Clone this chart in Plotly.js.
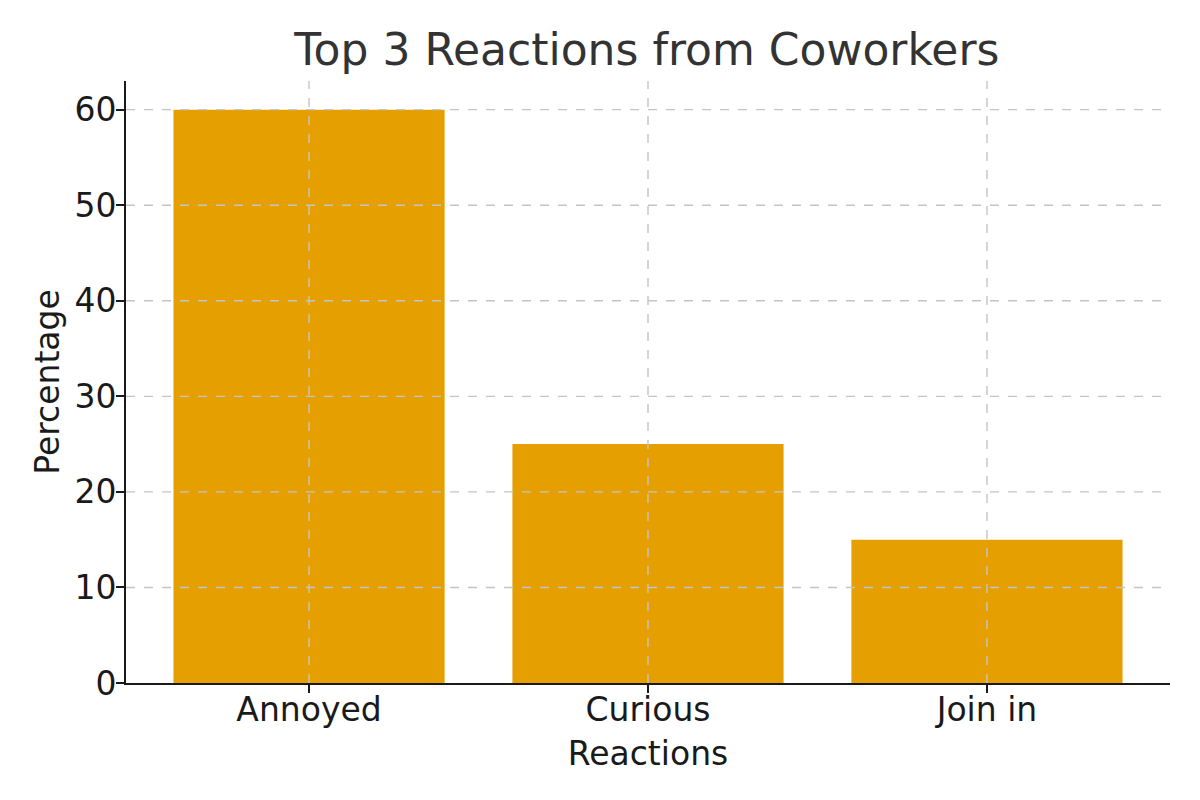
<!DOCTYPE html>
<html>
<head>
<meta charset="utf-8">
<script src="https://cdn.plot.ly/plotly-3.0.1.min.js"></script>
<style>html,body{margin:0;padding:0;background:#fff;}#chart{width:1200px;height:800px;}</style>
</head>
<body>
<div id="chart"></div>
<script>
const categories = ["Annoyed", "Curious", "Join in"];
const percentages = [60, 25, 15];
const yTicks = [0, 10, 20, 30, 40, 50, 60];

const gridStyle = {color: "#c4c4c4", width: 1.4, dash: "dash"};
const shapes = [];
yTicks.filter(v => v > 0).forEach(v => shapes.push({type: "line", xref: "paper", yref: "y", x0: 0, x1: 1, y0: v, y1: v, line: gridStyle, layer: "above"}));
categories.forEach((c, i) => shapes.push({type: "line", xref: "x", yref: "paper", x0: i, x1: i, y0: 0, y1: 1, line: gridStyle, layer: "above"}));

const trace = {
  type: "bar",
  x: categories.map((c, i) => i),
  y: percentages,
  width: 0.8,
  marker: {color: "#E69F00", line: {width: 0}},
  hoverinfo: "none"
};

const font = {family: "DejaVu Sans, sans-serif", color: "#1a1a1a"};
const layout = {
  width: 1200, height: 800,
  margin: {l: 126, r: 30, t: 81, b: 117},
  paper_bgcolor: "#fff", plot_bgcolor: "#fff",
  font: font,
  showlegend: false,
  title: {text: "Top 3 Reactions from Coworkers", font: {family: "DejaVu Sans, sans-serif", size: 44, color: "#333333"}, x: 0.539, xanchor: "center", y: 0.938, yanchor: "middle"},
  xaxis: {
    range: [-0.54, 2.54],
    tickmode: "array", tickvals: categories.map((c, i) => i), ticktext: categories,
    tickfont: {size: 33, color: "#1a1a1a"},
    ticks: "outside", ticklen: 8, tickwidth: 2, tickcolor: "#1a1a1a",
    ticklabelstandoff: -12,
    showline: true, linecolor: "#1a1a1a", linewidth: 2,
    showgrid: false, zeroline: false,
    title: {text: "Reactions", font: {size: 33, color: "#1a1a1a"}, standoff: 14}
  },
  yaxis: {
    range: [0, 63],
    tickmode: "array", tickvals: yTicks,
    tickfont: {size: 33, color: "#1a1a1a"},
    ticks: "outside", ticklen: 8, tickwidth: 2, tickcolor: "#1a1a1a",
    ticklabelstandoff: -7,
    showline: true, linecolor: "#1a1a1a", linewidth: 2,
    showgrid: false, zeroline: false,
    title: {text: "Percentage", font: {size: 33, color: "#1a1a1a"}, standoff: 5}
  },
  shapes: shapes
};

Plotly.newPlot("chart", [trace], layout, {displayModeBar: false, staticPlot: true});
</script>
</body>
</html>
